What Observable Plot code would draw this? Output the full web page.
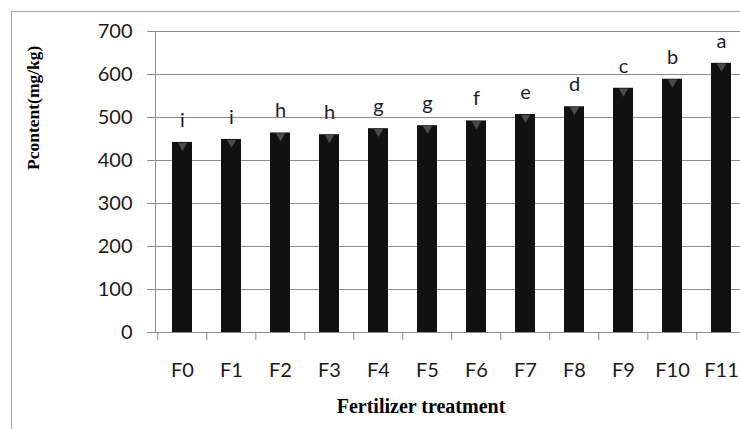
<!DOCTYPE html>
<html><head><meta charset="utf-8">
<script src="https://cdn.jsdelivr.net/npm/d3@7"></script>
<script src="https://cdn.jsdelivr.net/npm/@observablehq/plot@0.6"></script>
<style>
html,body{margin:0;padding:0;background:#fff;overflow:hidden;width:740px;height:429px;}
#wrap{position:relative;width:740px;height:429px;overflow:hidden;}
#border{position:absolute;left:11px;top:11px;width:900px;height:600px;border:1px solid #a6a6a6;box-sizing:border-box;pointer-events:none;}
#chart{position:absolute;left:0;top:0;width:760px;}
#chart svg{max-width:none !important;}
</style></head>
<body><div id="wrap"><div id="border"></div><div id="chart"></div></div>
<script>
const categories = ["F0","F1","F2","F3","F4","F5","F6","F7","F8","F9","F10","F11"];
const values = [442, 449, 464, 460, 474, 481, 492, 507, 525, 568, 589, 626];
const letters = ["i","i","h","h","g","g","f","e","d","c","b","a"];
const yTicks = [0,100,200,300,400,500,600,700];
const yTitle = "Pcontent(mg/kg)";
const xTitle = "Fertilizer treatment";

const data = categories.map((c,i)=>({cat:c, v:values[i], lab:letters[i]}));

const W = 760, ML = 155, MR = 12;
const step = (W - ML - MR) / categories.length;

const plot = Plot.plot({
  width: W, height: 429,
  marginLeft: ML, marginRight: MR, marginTop: 31, marginBottom: 97,
  style: {fontFamily: "Lato, 'Open Sans', sans-serif", fontSize: "20px", color: "#1a1a1a", background: "transparent", overflow: "visible", maxWidth: "none"},
  x: {domain: categories, paddingInner: 0.6, paddingOuter: 0.3, label: null},
  y: {domain: [0,700], label: null},
  marks: [
    Plot.gridY(yTicks, {stroke: "#8c8c8c", strokeOpacity: 1, strokeWidth: 1}),
    Plot.axisY(yTicks, {tickSize: 8, tickPadding: 15, stroke: "#8c8c8c", label: null, fontSize: 20}),
    Plot.barY(data, {x: "cat", y: "v", fill: "#111"}),
    Plot.dot(data, {x: "cat", y: "v", symbol: "triangle", r: 3.5, rotate: 180, fill: "#4a4a4a", dy: 3}),
    Plot.text(data, {x: "cat", y: "v", text: "lab", dy: -22, fontSize: 20, fill: "#1c1c2e"}),
    Plot.frame({anchor: "left", stroke: "#8c8c8c"}),
    Plot.ruleY([0], {stroke: "#8c8c8c"}),
    Plot.axisX({tickSize: 8, tickFormat: () => "", dx: -step/2, stroke: "#8c8c8c", label: null}),
    Plot.axisX({tickSize: 0, tickPadding: 30, label: null, fontSize: 20}),
    Plot.text([yTitle], {frameAnchor: "left", dx: -122, dy: -12, rotate: -90, fontFamily: "'Liberation Serif', serif", fontWeight: "bold", fontSize: 17.5, fill: "#000"}),
    Plot.text([xTitle], {frameAnchor: "bottom", dx: -31, dy: 80, fontFamily: "'Liberation Serif', serif", fontWeight: "bold", fontSize: 20, fill: "#000"})
  ]
});
document.getElementById("chart").appendChild(plot);
</script>
</body></html>
